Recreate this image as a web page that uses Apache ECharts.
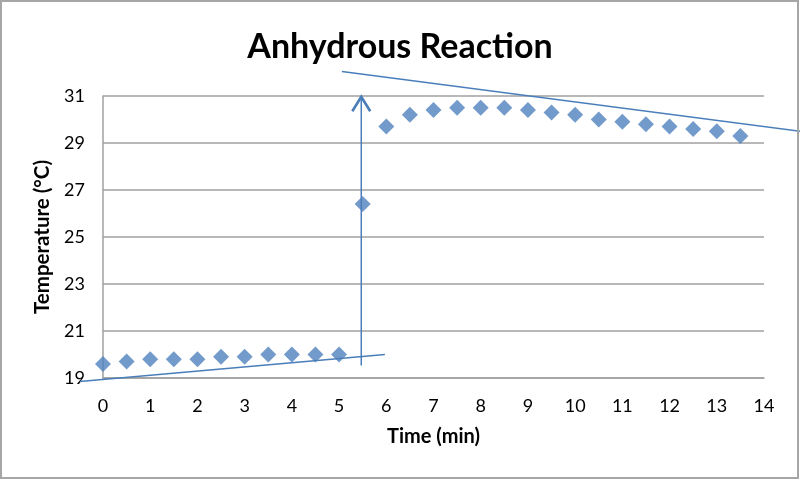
<!DOCTYPE html>
<html>
<head>
<meta charset="utf-8">
<script src="https://cdn.jsdelivr.net/npm/echarts@6/dist/echarts.min.js"></script>
<style>html,body{margin:0;padding:0;background:#fff}#c{width:800px;height:480px}</style>
</head>
<body>
<div id="c"></div>
<script>
// Measured data (time in min, temperature in °C)
var times = [0,0.5,1,1.5,2,2.5,3,3.5,4,4.5,5,5.5,6,6.5,7,7.5,8,8.5,9,9.5,10,10.5,11,11.5,12,12.5,13,13.5];
var temps = [19.6,19.7,19.8,19.8,19.8,19.9,19.9,20.0,20.0,20.0,20.0,26.4,29.7,30.2,30.4,30.5,30.5,30.5,30.4,30.3,30.2,30.0,29.9,29.8,29.7,29.6,29.5,29.3];
// Hand-drawn annotation lines (in data units)
var lowerTrend = [[-0.49,18.85],[5.97,20.0]];
var upperTrend = [[5.06,32.04],[14.77,29.5]];
var arrowShaft = [[5.47,19.53],[5.47,30.9]];
var arrowHead = [[5.28,30.35],[5.47,30.97],[5.66,30.35]];
var xTicks = {min:0,max:14,interval:1};
var yTicks = {min:19,max:31,interval:2};

var points = times.map(function(t,i){return [t,temps[i]];});
var FONT = 'Lato, "Open Sans", sans-serif';
var blue = '#4F81BD';
var lineBlue = '#4A7EBB';
var chart = echarts.init(document.getElementById('c'),null,{renderer:'canvas'});
var baseOption = {
  animation:false,
  backgroundColor:'#fff',
  title:{text:'Anhydrous Reaction',left:'center',top:25,
    textStyle:{fontFamily:FONT,fontWeight:'bold',fontSize:34,color:'#000'}},
  grid:{left:103,right:36,top:96,bottom:102},
  xAxis:{type:'value',min:xTicks.min,max:xTicks.max,interval:xTicks.interval,
    name:'Time (min)',nameLocation:'middle',nameGap:49,
    nameTextStyle:{fontFamily:FONT,fontWeight:'bold',fontSize:20,color:'#000'},
    axisLine:{show:true,lineStyle:{color:'#a0a0a0',width:1.5}},
    axisTick:{show:false},splitLine:{show:false},
    axisLabel:{fontFamily:FONT,fontSize:18,color:'#000',margin:19}},
  yAxis:{type:'value',min:yTicks.min,max:yTicks.max,interval:yTicks.interval,
    name:'Temperature (°C)',nameLocation:'middle',nameGap:46,
    nameTextStyle:{fontFamily:FONT,fontWeight:'bold',fontSize:20.5,color:'#000'},
    axisLine:{show:true,lineStyle:{color:'#a0a0a0',width:1.5}},
    axisTick:{show:false},
    splitLine:{show:true,lineStyle:{color:'#a0a0a0',width:1.5}},
    axisLabel:{fontFamily:FONT,fontSize:18,color:'#000',margin:18}},
  series:[
    {type:'scatter',data:points,symbol:'diamond',symbolSize:16,
      itemStyle:{color:blue},z:2}
  ]
};
chart.setOption(baseOption);
function px(list){
  return list.map(function(p){return chart.convertToPixel({gridIndex:0},p);});
}
function poly(list,w){
  return {type:'polyline',shape:{points:px(list)},silent:true,z:50,
    style:{stroke:lineBlue,lineWidth:w,fill:null,lineJoin:'miter'}};
}
chart.setOption({graphic:[
  poly(lowerTrend,1.4), poly(upperTrend,1.4), poly(arrowShaft,1.5), poly(arrowHead,2.6),
  {type:'rect',shape:{x:1,y:1,width:797,height:477},
    style:{fill:null,stroke:'#a6a6a6',lineWidth:2},z:100,silent:true}
]});
</script>
</body>
</html>
